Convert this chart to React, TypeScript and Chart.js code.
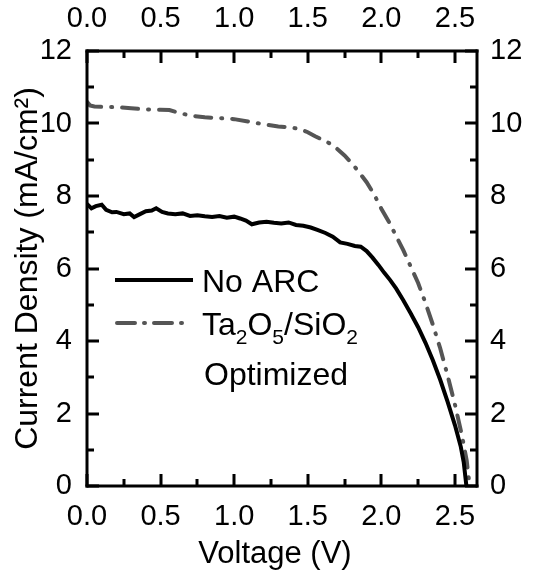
import React, { useEffect, useRef } from 'react';
import { Chart, registerables } from 'chart.js';

Chart.register(...registerables);

const FONT = "'Liberation Sans', Arial, sans-serif";

// No ARC (solid black)
const voltageNoArc = [0, 0.03, 0.06, 0.1, 0.13, 0.17, 0.2, 0.25, 0.29, 0.32, 0.36, 0.4, 0.44, 0.47, 0.51, 0.55, 0.6, 0.65, 0.7, 0.75, 0.8, 0.85, 0.9, 0.95, 1.0, 1.04, 1.08, 1.12, 1.17, 1.22, 1.27, 1.32, 1.37, 1.42, 1.47, 1.52, 1.57, 1.62, 1.67, 1.72, 1.77, 1.82, 1.86, 1.9, 1.94, 1.98, 2.02, 2.06, 2.1, 2.15, 2.2, 2.25, 2.3, 2.35, 2.4, 2.45, 2.5, 2.54, 2.56, 2.578];
const currentNoArc = [7.78, 7.66, 7.72, 7.76, 7.62, 7.55, 7.56, 7.5, 7.52, 7.42, 7.5, 7.58, 7.6, 7.66, 7.56, 7.52, 7.5, 7.52, 7.45, 7.47, 7.44, 7.42, 7.45, 7.4, 7.43, 7.38, 7.32, 7.22, 7.27, 7.29, 7.26, 7.24, 7.27, 7.2, 7.18, 7.13, 7.06, 6.98, 6.88, 6.72, 6.68, 6.62, 6.6, 6.48, 6.3, 6.1, 5.88, 5.68, 5.45, 5.12, 4.76, 4.38, 3.95, 3.47, 2.93, 2.33, 1.68, 1.08, 0.65, 0];

// Ta2O5/SiO2 Optimized (gray dash-dot)
const voltageOpt = [0, 0.02, 0.05, 0.1, 0.2, 0.3, 0.4, 0.5, 0.56, 0.62, 0.7, 0.8, 0.9, 1.0, 1.1, 1.2, 1.3, 1.4, 1.45, 1.5, 1.55, 1.6, 1.65, 1.7, 1.75, 1.8, 1.85, 1.9, 1.95, 2.0, 2.05, 2.1, 2.15, 2.2, 2.25, 2.3, 2.35, 2.4, 2.45, 2.5, 2.55, 2.58, 2.6];
const currentOpt = [10.6, 10.5, 10.47, 10.46, 10.45, 10.42, 10.39, 10.38, 10.37, 10.3, 10.22, 10.17, 10.15, 10.12, 10.05, 9.98, 9.92, 9.88, 9.84, 9.76, 9.65, 9.55, 9.45, 9.3, 9.12, 8.9, 8.65, 8.38, 8.05, 7.65, 7.3, 6.9, 6.5, 6.05, 5.6, 5.05, 4.45, 3.8, 3.05, 2.25, 1.35, 0.7, 0];

const xMin = 0;
const xMax = 2.65;
const xMajorStep = 0.5;
const xMinorTicks = [0, 0.25, 0.5, 0.75, 1.0, 1.25, 1.5, 1.75, 2.0, 2.25, 2.5];
const yMin = 0;
const yMax = 12;
const yMajorStep = 2;
const yMinorTicks = [0, 1, 2, 3, 4, 5, 6, 7, 8, 9, 10, 11, 12];

const xTitle = 'Voltage (V)';
const yTitle = 'Current Density (mA/cm²)';
const legendNoArc = 'No ARC';
const legendOptLine1 = [
  { t: 'Ta', sub: false },
  { t: '2', sub: true },
  { t: 'O', sub: false },
  { t: '5', sub: true },
  { t: '/SiO', sub: false },
  { t: '2', sub: true },
];
const legendOptLine2 = 'Optimized';

const framePlugin = {
  id: 'frameTicks',
  afterDraw(chart: any) {
    const ctx = chart.ctx;
    const area = chart.chartArea;
    const left = area.left, right = area.right, top = area.top, bottom = area.bottom;
    const xs = chart.scales['x'];
    const ys = chart.scales['y'];
    ctx.save();
    ctx.setLineDash([]);
    ctx.fillStyle = '#000';
    const w = 3;
    // frame
    ctx.fillRect(left - w / 2, top - w / 2, right - left + w, w);
    ctx.fillRect(left - w / 2, bottom - w / 2, right - left + w, w);
    ctx.fillRect(left - w / 2, top - w / 2, w, bottom - top + w);
    ctx.fillRect(right - w / 2, top - w / 2, w, bottom - top + w);
    // inward ticks
    for (let i = 0; i < xMinorTicks.length; i++) {
      const v = xMinorTicks[i];
      const px = Math.round(xs.getPixelForValue(v));
      const major = Math.abs(v / xMajorStep - Math.round(v / xMajorStep)) < 1e-6;
      const len = major ? 12 : 7;
      ctx.fillRect(px - w / 2, bottom - len, w, len);
      ctx.fillRect(px - w / 2, top, w, len);
    }
    for (let i = 0; i < yMinorTicks.length; i++) {
      const v = yMinorTicks[i];
      const py = Math.round(ys.getPixelForValue(v));
      const major = Math.abs(v / yMajorStep - Math.round(v / yMajorStep)) < 1e-6;
      const len = major ? 12 : 7;
      ctx.fillRect(left, py - w / 2, len, w);
      ctx.fillRect(right - len, py - w / 2, len, w);
    }

    // axis titles
    ctx.textAlign = 'center';
    ctx.textBaseline = 'alphabetic';
    ctx.font = `31px ${FONT}`;
    ctx.fillText(xTitle, 275, 563);
    ctx.save();
    ctx.translate(37, (top + bottom) / 2);
    ctx.rotate(-Math.PI / 2);
    ctx.font = `32px ${FONT}`;
    ctx.fillText(yTitle, 0, 0);
    ctx.restore();

    // legend
    ctx.lineWidth = 4;
    ctx.strokeStyle = '#000';
    ctx.lineCap = 'butt';
    ctx.beginPath();
    ctx.moveTo(115, 280);
    ctx.lineTo(193, 280);
    ctx.stroke();
    ctx.strokeStyle = '#555';
    ctx.lineCap = 'round';
    ctx.setLineDash([18, 9, 1, 9]);
    ctx.beginPath();
    ctx.moveTo(117, 323);
    ctx.lineTo(182, 323);
    ctx.stroke();
    ctx.setLineDash([]);

    ctx.fillStyle = '#000';
    ctx.textBaseline = 'alphabetic';
    ctx.textAlign = 'left';
    ctx.font = `32px ${FONT}`;
    ctx.fillText(legendNoArc, 202, 292);
    let x = 202;
    for (const seg of legendOptLine1) {
      ctx.font = seg.sub ? `21px ${FONT}` : `32px ${FONT}`;
      ctx.fillText(seg.t, x, seg.sub ? 344 : 335);
      x += ctx.measureText(seg.t).width;
    }
    ctx.font = `32px ${FONT}`;
    ctx.fillText(legendOptLine2, 204, 385);
    ctx.restore();
  },
};

export default function App() {
  const ref = useRef<HTMLCanvasElement>(null);
  useEffect(() => {
    if (!ref.current) return;
    const tickFont = { family: FONT, size: 29 };
    const noArc = voltageNoArc.map((v, i) => ({ x: v, y: currentNoArc[i] }));
    const opt = voltageOpt.map((v, i) => ({ x: v, y: currentOpt[i] }));
    const chart = new Chart(ref.current, {
      type: 'line',
      data: {
        datasets: [
          { label: legendNoArc, data: noArc, borderColor: '#000', borderWidth: 4, pointRadius: 0, tension: 0, fill: false },
          { label: 'Ta2O5/SiO2 Optimized', data: opt, borderColor: '#555', borderWidth: 4, borderDash: [16, 10, 1, 10], borderCapStyle: 'round', pointRadius: 0, tension: 0, fill: false },
        ],
      },
      options: {
        animation: false,
        responsive: false,
        layout: { padding: 0 },
        plugins: { legend: { display: false }, tooltip: { enabled: false } },
        scales: {
          x: {
            type: 'linear', position: 'bottom', min: xMin, max: xMax,
            grid: { display: false, drawTicks: false }, border: { display: false },
            ticks: { stepSize: xMajorStep, includeBounds: false, color: '#000', font: tickFont, padding: 14, maxRotation: 0, autoSkip: false, callback: (v: any) => Number(v).toFixed(1) },
            afterFit: (s: any) => { s.height = 90; },
          },
          x2: {
            type: 'linear', axis: 'x', position: 'top', min: xMin, max: xMax,
            grid: { display: false, drawTicks: false }, border: { display: false },
            ticks: { stepSize: xMajorStep, includeBounds: false, color: '#000', font: tickFont, padding: 15, maxRotation: 0, autoSkip: false, callback: (v: any) => Number(v).toFixed(1) },
            afterFit: (s: any) => { s.height = 51; },
          },
          y: {
            type: 'linear', position: 'left', min: yMin, max: yMax,
            grid: { display: false, drawTicks: false }, border: { display: false },
            ticks: { stepSize: yMajorStep, color: '#000', font: tickFont, padding: 15 },
            afterFit: (s: any) => { s.width = 87; },
          },
          y2: {
            type: 'linear', axis: 'y', position: 'right', min: yMin, max: yMax,
            grid: { display: false, drawTicks: false }, border: { display: false },
            ticks: { stepSize: yMajorStep, color: '#000', font: tickFont, padding: 13 },
            afterFit: (s: any) => { s.width = 77; },
          },
        },
      },
      plugins: [framePlugin],
    });
    return () => chart.destroy();
  }, []);
  return (
    <div style={{ position: 'fixed', left: 0, top: 0, width: 554, height: 576, background: '#fff' }}>
      <canvas ref={ref} width={554} height={576} style={{ display: 'block' }} />
    </div>
  );
}
